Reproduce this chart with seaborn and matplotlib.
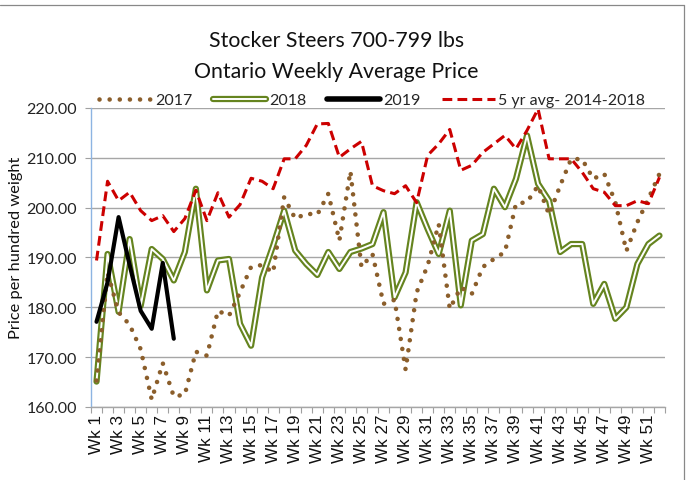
import matplotlib
matplotlib.use("Agg")
import matplotlib.pyplot as plt
from matplotlib.lines import Line2D
from matplotlib.legend_handler import HandlerTuple
import numpy as np
import pandas as pd
import seaborn as sns

weeks = list(range(1, 53))
week_labels = [f"Wk {w}" for w in weeks]

y2017 = [165.3, 187.0, 179.0, 176.5, 171.6, 161.5, 168.8, 162.1, 162.5, 171.1,
         170.3, 179.3, 178.3, 183.0, 188.1, 188.5, 187.0, 202.1, 197.8, 198.8,
         198.6, 202.8, 193.4, 207.3, 188.1, 190.7, 180.7, 181.5, 167.5, 183.0,
         188.4, 196.7, 179.7, 184.0, 182.7, 188.1, 189.7, 191.1, 200.8, 201.1,
         204.4, 198.6, 204.4, 209.8, 209.7, 205.8, 206.8, 201.1, 191.3, 197.1,
         201.8, 206.8]
y2018 = [165.1, 190.7, 179.1, 193.7, 180.3, 191.7, 189.7, 185.4, 191.1, 203.8,
         183.4, 189.4, 189.7, 176.7, 172.3, 186.0, 192.4, 199.4, 191.4, 188.7,
         186.5, 191.1, 187.7, 191.1, 191.8, 192.7, 199.1, 182.0, 187.0, 201.1,
         195.7, 190.7, 199.4, 180.4, 193.4, 194.7, 203.8, 200.1, 205.8, 214.5,
         204.8, 201.4, 191.1, 192.7, 192.7, 180.7, 184.7, 177.7, 180.0, 188.7,
         192.7, 194.4]
y2019 = [177.1, 185.0, 198.1, 188.5, 179.3, 175.7, 188.9, 173.7]
y5avg = [189.4, 205.3, 201.4, 203.1, 199.4, 197.4, 198.4, 195.2, 197.8, 203.5,
         197.4, 203.0, 198.1, 200.6, 205.9, 205.3, 203.8, 209.8, 209.8, 212.5,
         216.8, 216.9, 210.1, 211.8, 213.3, 204.4, 203.4, 202.8, 204.4, 201.0,
         210.5, 212.8, 215.7, 207.5, 208.5, 211.1, 212.8, 214.5, 211.8, 215.5,
         219.8, 209.8, 209.8, 209.8, 207.1, 203.8, 203.1, 200.4, 200.4, 201.4,
         200.8, 206.1]
y_ticks = [160, 170, 180, 190, 200, 210, 220]

title_lines = ["Stocker Steers 700-799 lbs", "Ontario Weekly Average Price"]
y_label = "Price per hundred weight"
series_names = ["2017", "2018", "2019", "5 yr avg- 2014-2018"]

C17 = "#8B5E2B"
C18 = "#65841F"
C19 = "#000000"
CAVG = "#CC0000"

sns.set_theme(style="white")
plt.rcParams["font.family"] = ["Lato", "DejaVu Sans"]

W, H = 687, 481
fig = plt.figure(figsize=(W / 100, H / 100), dpi=100)
L, R, T, B = 91, 665, 109, 408
ax = fig.add_axes([L / W, 1 - B / H, (R - L) / W, (B - T) / H])

df18 = pd.DataFrame({"week": weeks, "price": y2018})
df17 = pd.DataFrame({"week": weeks, "price": y2017})
df19 = pd.DataFrame({"week": weeks[:len(y2019)], "price": y2019})
dfa = pd.DataFrame({"week": weeks, "price": y5avg})

sns.lineplot(data=df18, x="week", y="price", ax=ax, color=C18, lw=4.5,
             legend=False, zorder=3, solid_joinstyle="round")
sns.lineplot(data=df18, x="week", y="price", ax=ax, color="white", lw=1.4,
             legend=False, zorder=3.1, solid_joinstyle="round")
sns.lineplot(data=df17, x="week", y="price", ax=ax, color=C17, lw=3.3,
             linestyle=(0, (0.01, 2.2)), dash_capstyle="round",
             legend=False, zorder=3.2)
sns.lineplot(data=df19, x="week", y="price", ax=ax, color=C19, lw=3.0,
             legend=False, zorder=3.4, solid_joinstyle="round")
sns.lineplot(data=dfa, x="week", y="price", ax=ax, color=CAVG, lw=2.2,
             linestyle=(0, (3.2, 1.7)), legend=False, zorder=3.3)

ax.set_xlim(0.5, 52.5)
ax.set_ylim(160, 220)
ax.set_yticks(y_ticks)
ax.set_yticklabels([f"{v:.2f}" for v in y_ticks], fontsize=11.5, color="#222222")
ax.set_xticks(weeks[::2])
ax.set_xticklabels(week_labels[::2], rotation=90, fontsize=12.3,
                   family=["Liberation Sans", "DejaVu Sans"], color="#111111")
ax.set_xticks(np.arange(0.5, 53.0, 1.0), minor=True)
ax.tick_params(axis="x", which="major", length=0, pad=5)
ax.tick_params(axis="x", which="minor", length=4.5, width=0.8, color="#A0A0A0",
               direction="out", bottom=True)
ax.tick_params(axis="y", which="major", length=4, width=0.8, color="#A0A0A0",
               direction="out", left=True, pad=6)
ax.set_xlabel("")
ax.set_ylabel("")
ax.grid(axis="y", color="#A6A6A6", lw=1.0)
ax.grid(axis="x", visible=False)
ax.set_axisbelow(True)
for s in ["top", "right"]:
    ax.spines[s].set_visible(False)
ax.spines["left"].set_color("#8DB4E2")
ax.spines["left"].set_linewidth(1.0)
ax.spines["bottom"].set_color("#A6A6A6")
ax.spines["bottom"].set_linewidth(1.0)

# title & y label
cx = 336.5 / W
fig.text(cx, 1 - 41 / H, title_lines[0], ha="center", va="center", fontsize=15.3, color="#111111")
fig.text(cx, 1 - 72 / H, title_lines[1], ha="center", va="center", fontsize=15.3, color="#111111")
fig.text(16 / W, 1 - 248 / H, y_label, rotation=90, ha="center", va="center",
         fontsize=11.8, color="#111111")

# legend
h17 = Line2D([], [], color=C17, lw=3.3, linestyle=(0, (0.01, 2.2)), dash_capstyle="round")
h18 = (Line2D([], [], color=C18, lw=4.5, solid_capstyle="round"),
       Line2D([], [], color="white", lw=1.4))
h19 = Line2D([], [], color=C19, lw=4.0, solid_capstyle="round")
hav = Line2D([], [], color=CAVG, lw=2.2, linestyle=(0, (3.2, 1.7)))
fig.legend([h17, h18, h19, hav], series_names, ncol=4, frameon=False,
           loc="center left", bbox_to_anchor=(99 / W, 1 - 101 / H),
           handlelength=3.3, handletextpad=0.22, columnspacing=1.3,
           borderpad=0, borderaxespad=0, fontsize=11.5,
           handler_map={tuple: HandlerTuple(ndivide=1)})

# outer chart frame (partially visible)
fig.add_artist(Line2D([0, 684 / W], [1 - 6 / H, 1 - 6 / H], color="#888888", lw=0.9,
                      transform=fig.transFigure))
fig.add_artist(Line2D([684 / W, 684 / W], [1 - 6 / H, 0], color="#888888", lw=0.9,
                      transform=fig.transFigure))

fig.savefig("out.png", dpi=100)
